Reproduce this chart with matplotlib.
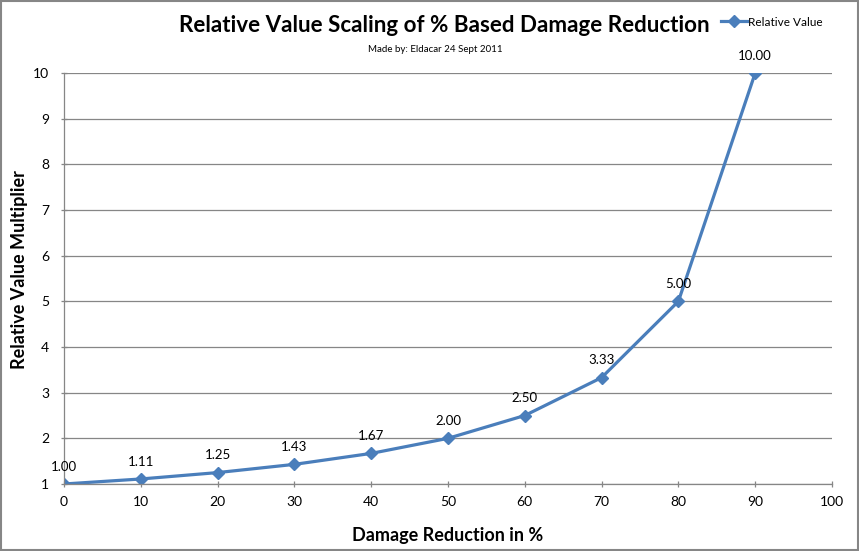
import matplotlib
matplotlib.use("Agg")
import matplotlib.pyplot as plt
from matplotlib.patches import Rectangle

x_vals = [0, 10, 20, 30, 40, 50, 60, 70, 80, 90]
y_vals = [1.00, 1.11, 1.25, 1.43, 1.67, 2.00, 2.50, 3.33, 5.00, 10.00]
x_ticks = [0, 10, 20, 30, 40, 50, 60, 70, 80, 90, 100]
y_ticks = [1, 2, 3, 4, 5, 6, 7, 8, 9, 10]

plt.rcParams['font.family'] = ['Lato', 'DejaVu Sans']
color = '#4A7EBB'
gray = '#868686'

fig = plt.figure(figsize=(8.59, 5.51), dpi=100)
ax = fig.add_axes([64/859, 67/551, (832-64)/859, (484-73)/551])

ax.plot(x_vals, y_vals, color=color, lw=2.3, marker='D', markersize=6,
        markerfacecolor=color, markeredgecolor=color, label='Relative Value',
        solid_joinstyle='round')
for xv, yv in zip(x_vals, y_vals):
    ax.annotate(f"{yv:.2f}", (xv, yv), xytext=(0, 8), textcoords='offset points',
                ha='center', va='bottom', fontsize=9.5, color='#000000')

ax.set_xlim(0, 100)
ax.set_ylim(1, 10)
ax.set_xticks(x_ticks)
ax.set_yticks(y_ticks)
ax.grid(axis='y', color=gray, lw=0.9)
ax.set_axisbelow(True)
for s in ['top', 'right']:
    ax.spines[s].set_visible(False)
for s in ['left', 'bottom']:
    ax.spines[s].set_color(gray)
    ax.spines[s].set_linewidth(0.9)
ax.tick_params(axis='both', direction='inout', length=5, width=0.9, color=gray,
               labelsize=10, pad=6)
ax.tick_params(axis='y', pad=8)

fig.text(448/859, 1 - 535/551, 'Damage Reduction in %', ha='center', va='center',
         fontsize=13, fontweight='bold')
fig.text(20/859, 1 - 270/551, 'Relative Value Multiplier', ha='center', va='center',
         rotation=90, fontsize=13, fontweight='bold')

fig.text(444/859, 1 - 25/551, 'Relative Value Scaling of % Based Damage Reduction',
         ha='center', va='center', fontsize=16.1, fontweight='bold')
fig.text(435/859, 1 - 49/551, 'Made by: Eldacar 24 Sept 2011',
         ha='center', va='center', fontsize=7)

leg = ax.legend(loc='center left', bbox_to_anchor=(721/859, 1 - 22/551),
                bbox_transform=fig.transFigure, frameon=False, fontsize=8.5,
                handlelength=2.2, handletextpad=0.1, borderaxespad=0, borderpad=0)

fig.patches.append(Rectangle((0.001, 0.001), 0.998, 0.997, transform=fig.transFigure,
                             fill=False, edgecolor=gray, lw=1.5))

fig.savefig('out.png', dpi=100)
